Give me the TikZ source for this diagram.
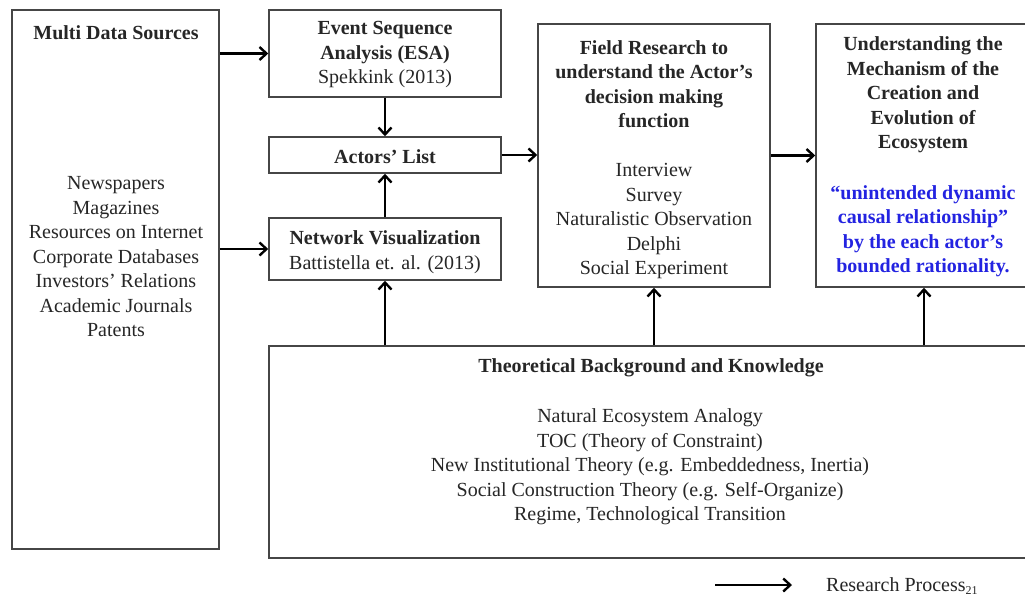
\documentclass[tikz,border=0pt]{standalone}
\usepackage{fontspec}
\setmainfont{Liberation Serif}
\usetikzlibrary{arrows.meta}
\definecolor{boxline}{RGB}{70,70,70}
\definecolor{quoteblue}{RGB}{35,35,225}
\begin{document}
\begin{tikzpicture}[x=1pt,y=-1pt,
  box/.style={draw=boxline, line width=1.5pt, inner sep=0pt},
  txt/.style={align=center, font=\fontsize{20}{24.5}\selectfont, inner sep=0pt, text=black!85},
  btxt/.style={txt, font=\fontsize{20}{24.5}\selectfont\bfseries},
  flow/.style={line width=2.8pt, -{Straight Barb[length=7pt,width=13pt,line width=2.4pt]}}]
\clip (0,0) rectangle (1025,598);
\fill[white] (0,0) rectangle (1025,598);
% boxes
\node[box, minimum width=207pt, minimum height=539pt] (src) at (115.5,279.5) {};
\node[box, minimum width=232pt, minimum height=87pt] (esa) at (385,53.5) {};
\node[box, minimum width=232pt, minimum height=36pt] (act) at (385,155) {};
\node[box, minimum width=232pt, minimum height=62pt] (nv) at (385,249) {};
\node[box, minimum width=232pt, minimum height=263pt] (field) at (654,155.5) {};
\node[box, minimum width=216pt, minimum height=263pt] (und) at (924,155.5) {};
\node[box, minimum width=780pt, minimum height=212pt] (bot) at (659,452) {};
% texts
\node[btxt] (srct) at (116,33) {Multi Data Sources};
\node[txt] (srcl) at (116,257) {Newspapers\\Magazines\\Resources on Internet\\Corporate Databases\\Investors’ Relations\\Academic Journals\\Patents};
\node[txt] (esat) at (385,55) {\textbf{Event Sequence}\\\textbf{Analysis (ESA)}\\Spekkink (2013)};
\node[btxt] (actt) at (385,157) {Actors’ List};
\node[txt] (nvt) at (385,252) {\textbf{Network Visualization}\\Battistella et. al. (2013)};
\node[btxt] (fieldt) at (654,84) {Field Research to\\understand the Actor’s\\decision making\\function};
\node[txt] (fieldl) at (654,221) {Interview\\Survey\\Naturalistic Observation\\Delphi\\Social Experiment};
\node[btxt] (undt) at (923,95) {Understanding the\\Mechanism of the\\Creation and\\Evolution of\\Ecosystem};
\node[btxt, text=quoteblue] (undq) at (923,231) {“unintended dynamic\\causal relationship”\\by the each actor’s\\bounded rationality.};
\node[btxt] (bott) at (651,368) {Theoretical Background and Knowledge};
\node[txt] (botl) at (650,467) {Natural Ecosystem Analogy\\TOC (Theory of Constraint)\\New Institutional Theory (e.g. Embeddedness, Inertia)\\Social Construction Theory (e.g. Self-Organize)\\Regime, Technological Transition};
% connectors
\draw[flow] (src.east|-esa.west) -- (esa.west);
\draw[flow] (src.east|-nv.west) -- (nv.west);
\draw[flow] (esa.south) -- (act.north);
\draw[flow] (nv.north) -- (act.south);
\draw[flow] (act.east) -- (field.west|-act.east);
\draw[flow] (field.east) -- (und.west);
\draw[flow] (nv.south|-bot.north) -- (nv.south);
\draw[flow] (field.south|-bot.north) -- (field.south);
\draw[flow] (und.south|-bot.north) -- (und.south);
% legend
\coordinate (la) at (715,585);
\coordinate (lb) at (792,585);
\draw[flow] (la) -- (lb);
\node[txt, anchor=base west] (leg) at (826,591) {Research Process\raisebox{-3.5pt}{\fontsize{12}{12}\selectfont 21}};
\end{tikzpicture}
\end{document}
